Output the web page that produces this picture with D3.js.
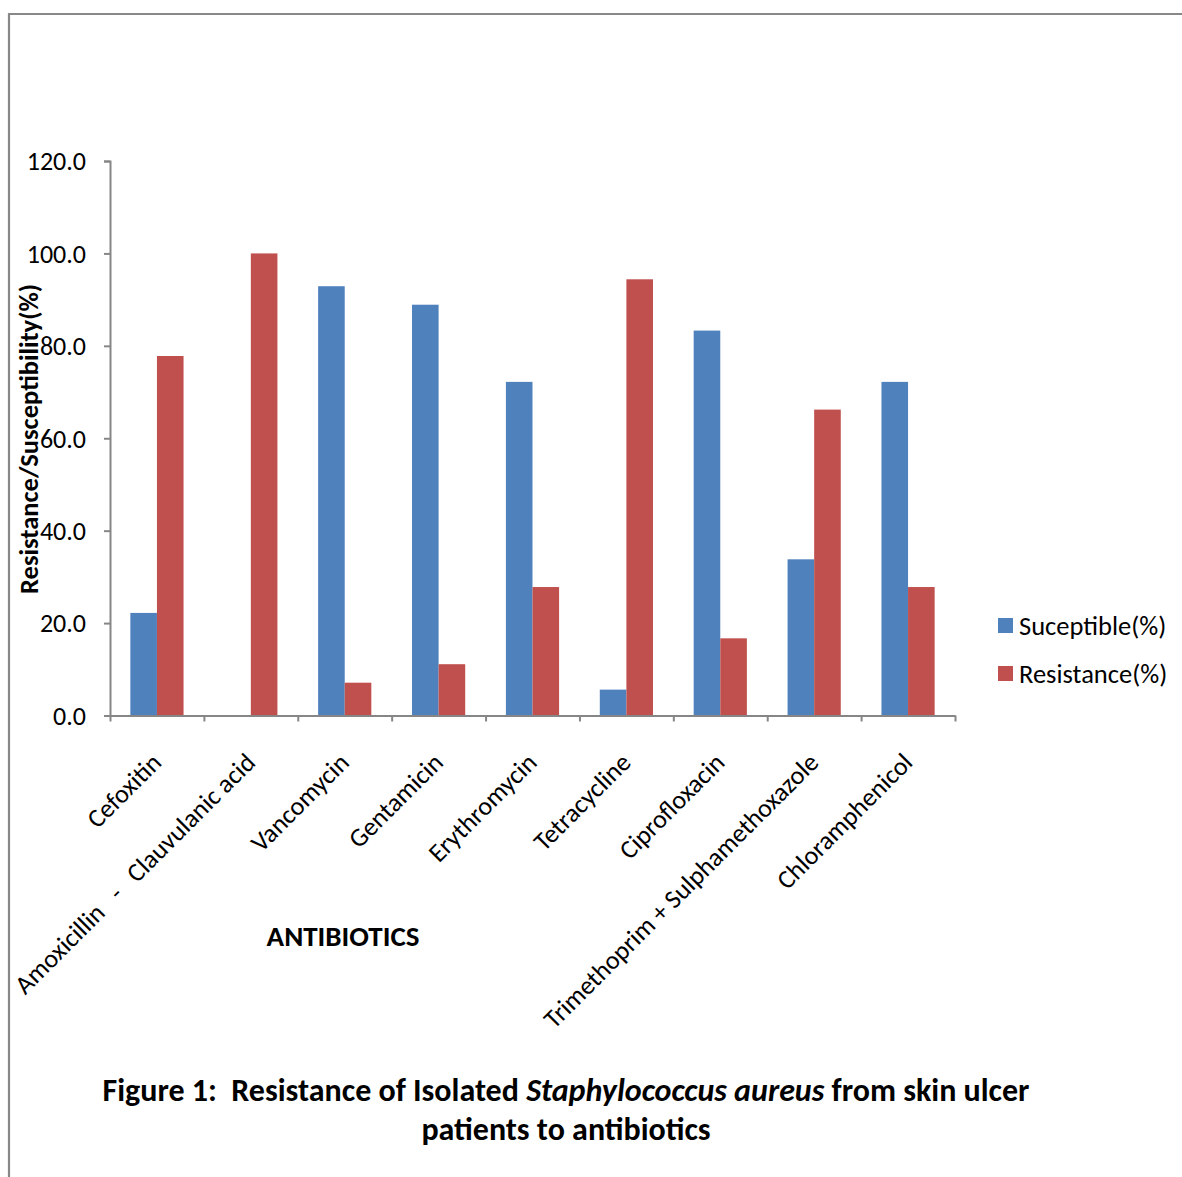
<!DOCTYPE html>
<html>
<head>
<meta charset="utf-8">
<script src="https://cdn.jsdelivr.net/npm/d3@7"></script>
<style>
  html, body { margin: 0; padding: 0; background: #fff; }
  svg { display: block; }
  text { font-family: Calibri, Carlito, "Open Sans", sans-serif; fill: #000; }
</style>
</head>
<body>
<svg id="chart" width="1182" height="1177"></svg>
<script>
// Antibiotic susceptibility of Staphylococcus aureus isolates
const categories = [
  "Cefoxitin",
  "Amoxicillin   -   Clauvulanic acid",
  "Vancomycin",
  "Gentamicin",
  "Erythromycin",
  "Tetracycline",
  "Ciprofloxacin",
  "Trimethoprim + Sulphamethoxazole",
  "Chloramphenicol"
];
const seriesNames = ["Suceptible(%)", "Resistance(%)"];
const susceptible = [22.2, 0.0, 92.9, 88.9, 72.2, 5.6, 83.3, 33.8, 72.2];
const resistance  = [77.8, 100.0, 7.1, 11.1, 27.8, 94.4, 16.7, 66.2, 27.8];
const yTicks = [0, 20, 40, 60, 80, 100, 120];
const colors = ["#4F81BD", "#C0504D"];

const svg = d3.select("#chart");
const axisColor = "#868686";

// page frame
svg.append("line").attr("x1", 8).attr("x2", 1182).attr("y1", 14).attr("y2", 14)
  .attr("stroke", "#888").attr("stroke-width", 2.2);
svg.append("line").attr("x1", 9).attr("x2", 9).attr("y1", 13).attr("y2", 1177)
  .attr("stroke", "#888").attr("stroke-width", 2.2);

const plot = { left: 110, right: 955, top: 161, bottom: 715.5 };

const x0 = d3.scaleBand().domain(categories).range([plot.left, plot.right]).padding(0);
const x1 = d3.scaleBand().domain(seriesNames).range([0, x0.bandwidth()])
  .paddingInner(0).paddingOuter(0.765);
const y = d3.scaleLinear().domain([0, 120]).range([plot.bottom, plot.top]);

// bars
const rows = categories.map((c, i) => ({ cat: c, vals: [susceptible[i], resistance[i]] }));
const groups = svg.append("g").selectAll("g").data(rows).join("g")
  .attr("transform", d => `translate(${x0(d.cat)},0)`);
groups.selectAll("rect")
  .data(d => d.vals.map((v, k) => ({ name: seriesNames[k], v, k })))
  .join("rect")
  .attr("x", d => x1(d.name))
  .attr("width", x1.bandwidth())
  .attr("y", d => y(d.v))
  .attr("height", d => plot.bottom - y(d.v))
  .attr("fill", d => colors[d.k]);

// y axis
const yAxis = svg.append("g")
  .attr("transform", `translate(${plot.left},0)`)
  .call(d3.axisLeft(y).tickValues(yTicks).tickFormat(d3.format(".1f")).tickSize(6).tickPadding(18));
yAxis.select(".domain").attr("stroke", axisColor).attr("stroke-width", 2);
yAxis.selectAll(".tick line").attr("stroke", axisColor).attr("stroke-width", 2);
yAxis.selectAll(".tick text").attr("font-size", 26).attr("dy", "0.34em")
  .style("font-family", 'Calibri, Carlito, "Open Sans", sans-serif');

// x axis: ticks sit on category boundaries
const xb = d3.scaleLinear().domain([0, categories.length]).range([plot.left, plot.right]);
const xAxis = svg.append("g")
  .attr("transform", `translate(0,${plot.bottom})`)
  .call(d3.axisBottom(xb).tickValues(d3.range(0, categories.length + 1)).tickFormat("").tickSize(6).tickSizeOuter(0));
xAxis.select(".domain").attr("stroke", axisColor).attr("stroke-width", 2);
xAxis.selectAll(".tick line").attr("stroke", axisColor).attr("stroke-width", 2);

// category labels
svg.append("g").selectAll("text").data(categories).join("text")
  .attr("transform", d => `translate(${x0(d) + x0.bandwidth() / 2 + 6},764) rotate(-45)`)
  .attr("text-anchor", "end")
  .attr("font-size", 26)
  .style("white-space", "pre")
  .text(d => d);

// axis titles
svg.append("text")
  .attr("transform", "translate(38,439) rotate(-90)")
  .attr("text-anchor", "middle")
  .attr("font-size", 26.5).attr("font-weight", "bold")
  .text("Resistance/Susceptibility(%)");
svg.append("text")
  .attr("x", 343).attr("y", 946)
  .attr("text-anchor", "middle")
  .attr("font-size", 29).attr("font-weight", "bold")
  .text("ANTIBIOTICS");

// legend
const legend = svg.append("g").selectAll("g").data(seriesNames).join("g")
  .attr("transform", (d, i) => `translate(998,${618 + i * 48})`);
legend.append("rect").attr("width", 15).attr("height", 15).attr("fill", (d, i) => colors[i]);
legend.append("text").attr("x", 21).attr("y", 7.5).attr("dy", "0.34em")
  .attr("font-size", 26.5).text(d => d);

// figure caption
const cap = svg.append("text")
  .attr("x", 566).attr("y", 1101)
  .attr("text-anchor", "middle")
  .attr("font-size", 32).attr("font-weight", "bold")
  .style("white-space", "pre");
cap.append("tspan").text("Figure 1:  Resistance of Isolated ");
cap.append("tspan").attr("font-style", "italic").text("Staphylococcus aureus");
cap.append("tspan").text(" from skin ulcer");
svg.append("text")
  .attr("x", 566).attr("y", 1140)
  .attr("text-anchor", "middle")
  .attr("font-size", 32).attr("font-weight", "bold")
  .text("patients to antibiotics");
</script>
</body>
</html>
